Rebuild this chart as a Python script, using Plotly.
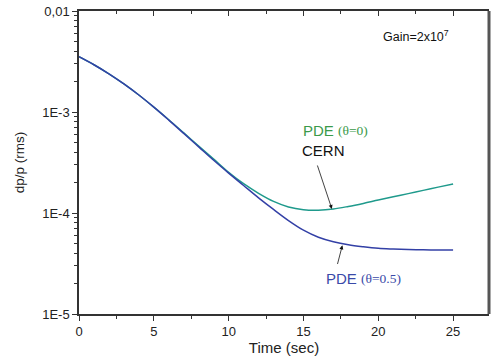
import plotly.graph_objects as go

# Time (sec)
time_s = list(range(0, 26))
# log10(dp/p rms)
pde_theta0_log = [-2.452, -2.532, -2.622, -2.722, -2.832, -2.952, -3.077, -3.207, -3.337, -3.467,
                  -3.597, -3.71, -3.805, -3.885, -3.94, -3.967, -3.972, -3.96, -3.935, -3.905,
                  -3.872, -3.84, -3.808, -3.776, -3.744, -3.712]
pde_theta05_log = [-2.452, -2.532, -2.622, -2.722, -2.832, -2.952, -3.08, -3.212, -3.345, -3.478,
                   -3.605, -3.728, -3.85, -3.965, -4.075, -4.17, -4.24, -4.285, -4.315, -4.335,
                   -4.35, -4.357, -4.362, -4.365, -4.366, -4.367]
pde_theta0 = [10 ** v for v in pde_theta0_log]
pde_theta05 = [10 ** v for v in pde_theta05_log]

y_tickvals = [1e-5, 1e-4, 1e-3, 1e-2]
y_ticktext = ["1E-5", "1E-4", "1E-3", "0,01"]
y_minor = [k * 10 ** e for e in (-5, -4, -3) for k in range(2, 10)]
x_tickvals = [0, 5, 10, 15, 20, 25]
x_minor = [2.5, 7.5, 12.5, 17.5, 22.5]

teal = "#1f9a8c"
blue = "#3340a6"
font = "Liberation Sans, Arial, sans-serif"
serif = "Liberation Serif, Times New Roman, serif"

fig = go.Figure()
fig.add_trace(go.Scatter(x=time_s, y=pde_theta0, mode="lines", line=dict(color=teal, width=1.5, shape="spline")))
fig.add_trace(go.Scatter(x=time_s, y=pde_theta05, mode="lines", line=dict(color=blue, width=1.5, shape="spline")))
fig.add_trace(go.Scatter(x=[None], y=[None], xaxis="x2", showlegend=False, hoverinfo="skip"))

fig.update_layout(
    width=493, height=356,
    margin=dict(l=79, r=4, t=11, b=42),
    paper_bgcolor="white", plot_bgcolor="white",
    showlegend=False,
    font=dict(family=font, size=11, color="#222"),
    xaxis=dict(range=[0, 27.4], tickvals=x_tickvals, ticks="outside", ticklen=5, tickwidth=1.2,
               tickcolor="#333", showline=True, linecolor="#333", linewidth=1.5, showgrid=False,
               zeroline=False, tickfont=dict(size=13),
               minor=dict(tickvals=x_minor, ticks="outside", ticklen=3, tickcolor="#333"),
               title=dict(text="Time (sec)", font=dict(size=15), standoff=0)),
    yaxis=dict(type="log", range=[-5, -2], tickvals=y_tickvals, ticktext=y_ticktext, ticks="outside",
               ticklen=5, tickwidth=1.2, tickcolor="#333", showline=True, linecolor="#333", linewidth=1.5,
               showgrid=False, zeroline=False, tickfont=dict(size=13),
               minor=dict(tickvals=y_minor, ticks="outside", ticklen=3, tickcolor="#333"),
               title=dict(text="dp/p (rms)", font=dict(size=13.5), standoff=14)),
    xaxis2=dict(range=[0, 27.4], overlaying="x", side="top", anchor="y", tickvals=x_tickvals,
                ticks="inside", ticklen=5, tickcolor="#333", showticklabels=False, showline=True,
                linecolor="#333", linewidth=1.5, showgrid=False, zeroline=False,
                minor=dict(tickvals=x_minor, ticks="inside", ticklen=3, tickcolor="#333")),
)

fig.add_shape(type="line", xref="paper", yref="paper", x0=1, x1=1, y0=0, y1=1,
              line=dict(color="#555", width=3))

# annotations on a log axis use log10 coordinates
fig.add_annotation(x=0.822, y=0.918, xref="paper", yref="paper", xanchor="center", yanchor="middle",
                   showarrow=False, text="Gain=2x10<sup>7</sup>", font=dict(size=12.5, color="#111"))

green_lbl = "#3a9a4a"
blue_lbl = "#3a4aa8"
fig.add_annotation(x=14.85, y=-3.18, xanchor="left", showarrow=False, text="PDE",
                   font=dict(size=15, color=green_lbl))
fig.add_annotation(x=17.15, y=-3.18, xanchor="left", showarrow=False, text="(θ=0)",
                   font=dict(size=13.5, family=serif, color=green_lbl))
fig.add_annotation(x=14.8, y=-3.386, xanchor="left", showarrow=False, text="CERN",
                   font=dict(size=15, color="#111"))
fig.add_annotation(x=16.9, y=-3.96, ax=15.9, ay=-3.515, axref="x", ayref="y",
                   text="", showarrow=True, arrowhead=2, arrowsize=1, arrowwidth=0.8, arrowcolor="#111")
fig.add_annotation(x=17.6, y=-4.32, ax=17.25, ay=-4.52, axref="x", ayref="y",
                   text="", showarrow=True, arrowhead=2, arrowsize=1, arrowwidth=0.8, arrowcolor="#111")
fig.add_annotation(x=16.4, y=-4.644, xanchor="left", showarrow=False, text="PDE",
                   font=dict(size=15, color=blue_lbl))
fig.add_annotation(x=18.7, y=-4.644, xanchor="left", showarrow=False, text="(θ=0.5)",
                   font=dict(size=13.5, family=serif, color=blue_lbl))

fig.write_html("out.html", config={"displayModeBar": False},
               post_script="document.body.style.margin='0';")
